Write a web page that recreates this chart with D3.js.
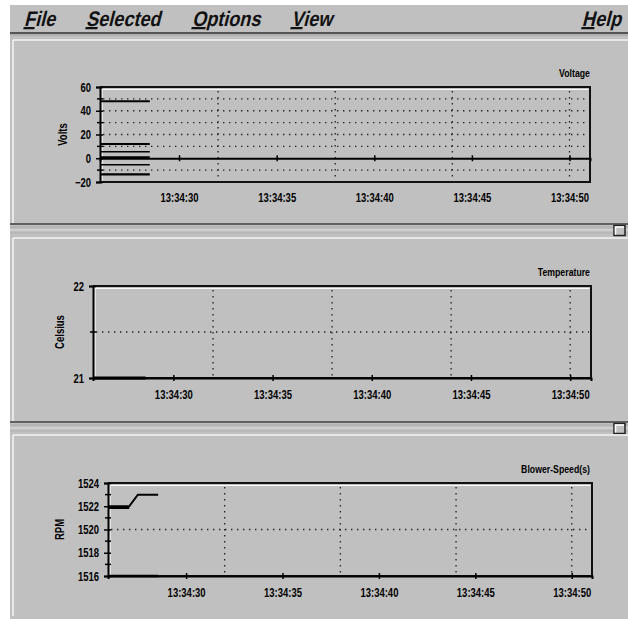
<!DOCTYPE html>
<html>
<head>
<meta charset="utf-8">
<script src="https://cdn.jsdelivr.net/npm/d3@7"></script>
<style>
  html, body { margin: 0; padding: 0; background: #fff; }
  svg { display: block; }
</style>
</head>
<body>
<svg id="chart"></svg>
<script>
// ---- data ----
const menuItems = ["File", "Selected", "Options", "View"];
const helpItem = "Help";

const timeDomain = ["13:34:25.95", "13:34:51.05"];
const timeTicks = ["13:34:30", "13:34:35", "13:34:40", "13:34:45", "13:34:50"];
const gridTimes = ["13:34:32", "13:34:38", "13:34:44", "13:34:50"];

const voltageDomain = [-20, 60];
const voltageTickLabels = [60, 40, 20, 0, -20];
const voltageMinorTicks = [50, 30, 10, -10];
const voltageGrid = [50, 40, 30, 20, 10, -10];
const voltageSeries = [
  [["13:34:25.95", 48], ["13:34:28.5", 48]],
  [["13:34:25.95", 12], ["13:34:28.5", 12]],
  [["13:34:25.95", 5.5], ["13:34:28.5", 5.5]],
  [["13:34:25.95", 0.8], ["13:34:28.5", 0.8]],
  [["13:34:25.95", -5.5], ["13:34:28.5", -5.5]],
  [["13:34:25.95", -13.5], ["13:34:28.5", -13.5]]
];

const temperatureDomain = [21, 22];
const temperatureTickLabels = [22, 21];
const temperatureMinorTicks = [21.5];
const temperatureGrid = [21.5];
const temperatureSeries = [
  [["13:34:25.95", 21], ["13:34:28.6", 21]]
];

const blowerDomain = [1516, 1524];
const blowerTickLabels = [1524, 1522, 1520, 1518, 1516];
const blowerMinorTicks = [1523, 1521, 1519, 1517];
const blowerGrid = [1520];
const blowerSeries = [
  [["13:34:25.95", 1522], ["13:34:27.05", 1522], ["13:34:27.5", 1523], ["13:34:28.55", 1523]],
  [["13:34:25.95", 1521.85], ["13:34:27.05", 1521.85]],
  [["13:34:25.95", 1516], ["13:34:28.55", 1516]]
];

// ---- helpers ----
function parseTime(s) {
  const [h, m, sec] = s.split(":").map(Number);
  const whole = Math.floor(sec);
  return new Date(2000, 0, 1, h, m, whole, Math.round((sec - whole) * 1000));
}
const fmt = d3.timeFormat("%H:%M:%S");

const width = 628;
const height = 619;
const bg = "#c0c0c0";
const font = "'Liberation Sans', Arial, sans-serif";
const narrow = 0.76;   // horizontal squeeze, the original uses a narrow face

// squeeze a text horizontally, keeping its anchor point in place
function squeeze(sel, sx) {
  sel.each(function() {
    const t = d3.select(this);
    const x0 = +(t.attr("x") || 0);
    t.attr("x", x0 / sx).attr("transform", `scale(${sx},1)`);
  });
}

const svg = d3.select("#chart")
  .attr("width", width)
  .attr("height", height)
  .attr("viewBox", [0, 0, width, height]);

svg.append("rect").attr("width", width).attr("height", height).attr("fill", "#fff");
svg.append("rect").attr("x", 10).attr("y", 5).attr("width", width - 10).attr("height", height - 5).attr("fill", bg);

// ---- menu bar ----
const menuX = [24, 86, 192, 291];
const menu = svg.append("g").attr("class", "menu");
function menuText(label, x, anchor) {
  const t = menu.append("text")
    .attr("x", 0).attr("y", 0)
    .attr("transform", `translate(${x},26) skewX(-14) scale(0.86,1)`)
    .attr("text-anchor", anchor)
    .attr("font-family", font)
    .attr("font-weight", "bold")
    .attr("font-size", 21).attr("fill", "#111");
  t.append("tspan").attr("text-decoration", "underline").text(label[0]);
  t.append("tspan").text(label.slice(1));
}
menuItems.forEach((item, i) => menuText(item, menuX[i], "start"));
menuText(helpItem, 621, "end");

svg.append("line").attr("x1", 10).attr("x2", width).attr("y1", 33).attr("y2", 33)
  .attr("stroke", "#555").attr("stroke-width", 2);
svg.append("line").attr("x1", 10).attr("x2", width).attr("y1", 35).attr("y2", 35)
  .attr("stroke", "#a0a0a0").attr("stroke-width", 1);

// ---- panel frames / separators ----
function panelEdge(yTop, yBottom) {
  svg.append("line").attr("x1", 13).attr("x2", width).attr("y1", yTop).attr("y2", yTop)
    .attr("stroke", "#f4f4f4").attr("stroke-width", 1.5);
  svg.append("line").attr("x1", 13).attr("x2", 13).attr("y1", yTop).attr("y2", yBottom)
    .attr("stroke", "#f4f4f4").attr("stroke-width", 1.5);
}
function separator(y) {
  svg.append("line").attr("x1", 10).attr("x2", width).attr("y1", y).attr("y2", y)
    .attr("stroke", "#606060").attr("stroke-width", 2);
  svg.append("line").attr("x1", 10).attr("x2", width).attr("y1", y + 3).attr("y2", y + 3)
    .attr("stroke", "#a8a8a8").attr("stroke-width", 1);
  svg.append("line").attr("x1", 10).attr("x2", width).attr("y1", y + 6).attr("y2", y + 6)
    .attr("stroke", "#dedede").attr("stroke-width", 1);
  svg.append("line").attr("x1", 10).attr("x2", width).attr("y1", y + 9).attr("y2", y + 9)
    .attr("stroke", "#b0b0b0").attr("stroke-width", 1);
  // grip square
  svg.append("rect").attr("x", 614).attr("y", y + 1.5).attr("width", 11).attr("height", 10)
    .attr("fill", bg).attr("stroke", "#222").attr("stroke-width", 1.5);
  svg.append("path").attr("d", `M615.5,${y + 10.5} V${y + 3} H624`)
    .attr("fill", "none").attr("stroke", "#fff").attr("stroke-width", 1.5);
}
panelEdge(40, 223);
separator(224);
panelEdge(238, 422);
separator(422);
panelEdge(435, 616);

// ---- chart panels ----
const panels = [
  {
    title: "Voltage", label: "Volts",
    domain: voltageDomain, labels: voltageTickLabels, minor: voltageMinorTicks,
    grid: voltageGrid, series: voltageSeries,
    left: 100, right: 590, top: 87, bottom: 182,
    titleY: 77, labelX: 63, tickLabelY: 198, xAxisAt: 0,
    widths: [2, 2, 1.5, 2, 1.5, 2.2]
  },
  {
    title: "Temperature", label: "Celsius",
    domain: temperatureDomain, labels: temperatureTickLabels, minor: temperatureMinorTicks,
    grid: temperatureGrid, series: temperatureSeries,
    left: 93, right: 591, top: 286, bottom: 378,
    titleY: 276, labelX: 60, tickLabelY: 395, xAxisAt: null,
    widths: [3]
  },
  {
    title: "Blower-Speed(s)", label: "RPM",
    domain: blowerDomain, labels: blowerTickLabels, minor: blowerMinorTicks,
    grid: blowerGrid, series: blowerSeries,
    left: 108, right: 592, top: 483, bottom: 576,
    titleY: 473, labelX: 60, tickLabelY: 593, xAxisAt: null,
    widths: [2, 2, 2.5]
  }
];

panels.forEach(p => {
  const g = svg.append("g");
  const x = d3.scaleTime().domain(timeDomain.map(parseTime)).range([p.left, p.right]);
  const y = d3.scaleLinear().domain(p.domain).range([p.bottom, p.top]);

  // title and y label
  g.append("text")
    .attr("x", 590).attr("y", p.titleY).attr("text-anchor", "end")
    .attr("font-family", font).attr("font-weight", "bold").attr("font-size", 11.5).attr("fill", "#000")
    .text(p.title)
    .call(squeeze, narrow);
  g.append("text")
    .attr("transform", `translate(${p.labelX},${(p.top + p.bottom) / 2}) rotate(-90) scale(${narrow},1)`)
    .attr("text-anchor", "middle").attr("dy", "0.35em")
    .attr("font-family", font).attr("font-weight", "bold").attr("font-size", 12.5).attr("fill", "#000")
    .text(p.label);

  // dotted grid
  const dots = "1.4,4.6";
  g.append("g").selectAll("line").data(p.grid).join("line")
    .attr("x1", p.left + 3).attr("x2", p.right - 2)
    .attr("y1", d => y(d)).attr("y2", d => y(d))
    .attr("stroke", "#222").attr("stroke-width", 1.3).attr("stroke-dasharray", dots);
  g.append("g").selectAll("line").data(gridTimes.map(parseTime)).join("line")
    .attr("x1", d => x(d)).attr("x2", d => x(d))
    .attr("y1", p.top + 4).attr("y2", p.bottom - 2)
    .attr("stroke", "#222").attr("stroke-width", 1.3).attr("stroke-dasharray", dots);

  // frame with light inner edge
  g.append("path")
    .attr("d", `M${p.left + 2},${p.bottom - 1} V${p.top + 2.5} H${p.right - 1.5}`)
    .attr("fill", "none").attr("stroke", "#fafafa").attr("stroke-width", 1.2);
  g.append("path")
    .attr("d", `M${p.left},${p.top} H${p.right} V${p.bottom} H${p.left}`)
    .attr("fill", "none").attr("stroke", "#111").attr("stroke-width", 2);

  // data lines
  const line = d3.line().x(d => x(parseTime(d[0]))).y(d => y(d[1]));
  g.append("g").selectAll("path").data(p.series).join("path")
    .attr("d", line)
    .attr("fill", "none").attr("stroke", "#000")
    .attr("stroke-width", (d, i) => p.widths[i]);

  // x axis line + crossing ticks
  const xAxisY = p.xAxisAt === null ? p.bottom : y(p.xAxisAt);
  const xa = g.append("g")
    .attr("transform", `translate(0,${xAxisY})`)
    .call(d3.axisBottom(x).tickValues(timeTicks.map(parseTime)).tickSize(3).tickFormat(""));
  xa.select(".domain").attr("stroke", "#000").attr("stroke-width", 2);
  xa.selectAll(".tick line").attr("y1", -3).attr("y2", 3).attr("stroke", "#000").attr("stroke-width", 1.5);

  // x tick labels
  const xl = g.append("g")
    .attr("transform", `translate(0,${p.tickLabelY})`)
    .call(d3.axisBottom(x).tickValues(timeTicks.map(parseTime)).tickSize(0).tickFormat(fmt));
  xl.select(".domain").remove();
  xl.selectAll(".tick text")
    .attr("y", 0).attr("dy", "0.35em")
    .attr("font-family", font).attr("font-weight", "bold").attr("font-size", 12.5).attr("fill", "#000")
    .call(squeeze, narrow);

  // y axis
  const ya = g.append("g")
    .attr("transform", `translate(${p.left},0)`)
    .call(d3.axisLeft(y).tickValues(p.labels).tickSize(4).tickPadding(5).tickFormat(d3.format("d")));
  ya.select(".domain").attr("stroke", "#000").attr("stroke-width", 2);
  ya.selectAll(".tick line").attr("x2", 3).attr("x1", -4).attr("stroke", "#000").attr("stroke-width", 1.5);
  ya.selectAll(".tick text")
    .attr("font-family", font).attr("font-weight", "bold").attr("font-size", 12.5).attr("fill", "#000")
    .call(squeeze, narrow);
  g.append("g").selectAll("line").data(p.minor).join("line")
    .attr("x1", p.left - 3).attr("x2", p.left + 3)
    .attr("y1", d => y(d)).attr("y2", d => y(d))
    .attr("stroke", "#000").attr("stroke-width", 1.5);
});
</script>
</body>
</html>
